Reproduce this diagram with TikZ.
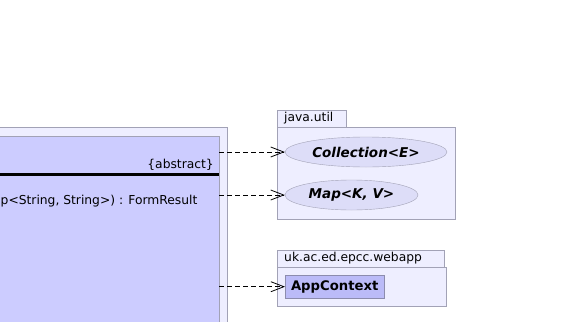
\documentclass[tikz,border=0pt]{standalone}
\usepackage{fontspec}
\setmainfont{DejaVu Sans}
\usetikzlibrary{arrows.meta,shapes.geometric,positioning}

\definecolor{pkgfill}{HTML}{EEEEFF}
\definecolor{pkgline}{HTML}{A2A2B6}
\definecolor{classfill}{HTML}{CCCCFF}
\definecolor{ifacefill}{HTML}{DDDDF8}
\definecolor{reffill}{HTML}{BBBBF8}
\definecolor{refline}{HTML}{8C8CAE}

\tikzset{
    umlfont/.style={font=\fontsize{12.3pt}{14pt}\selectfont},
    pkgbody/.style={draw=pkgline, fill=pkgfill, inner sep=0pt, anchor=north west},
    pkgtab/.style={draw=pkgline, fill=pkgfill, umlfont, inner xsep=7pt, inner ysep=0pt,
        anchor=south west, align=left, minimum height=17pt},
    classbox/.style={draw=pkgline, fill=classfill, inner sep=0pt},
    iface/.style={ellipse, draw=pkgline, fill=ifacefill, inner sep=0pt,
        font=\fontsize{13.5pt}{15pt}\selectfont\bfseries\itshape},
    refclass/.style={draw=refline, fill=reffill, inner sep=0pt,
        font=\fontsize{13.2pt}{15pt}\selectfont\bfseries},
    dep/.style={line width=0.8pt, dash pattern=on 5pt off 3pt,
        -{Straight Barb[length=13pt,width=10pt]}}
}

\begin{document}
\begin{tikzpicture}[x=1pt, y=-1pt]
    \useasboundingbox (0,0) rectangle (569,321);

    % package of the abstract class, running off the page
    \node[draw=pkgline, fill=pkgfill, inner sep=0pt, anchor=north east,
          minimum width=240pt, minimum height=200pt] (ownpkg) at (227,127) {};
    \node[classbox, anchor=north east, minimum width=232pt, minimum height=190pt]
        (form) at (219,136) {};
    \node[umlfont, anchor=east, inner sep=0pt] (abstract) at (214,165) {\{abstract\}};
    \draw[line width=2.5pt] (form.west |- 0,174.5) -- (form.east |- 0,174.5);
    \node[umlfont, anchor=west, inner sep=0pt] (operation) at (0.5,201)
        {p<String, String>) : FormResult};

    % java.util
    \node[pkgbody, minimum width=178pt, minimum height=92pt] (javautil) at (277,127) {};
    \node[pkgtab, text width=55pt] (javatab) at (javautil.north west) {java.util};
    \node[iface, minimum width=162pt, minimum height=30pt] (collection) at (366,152)
        {Collection<E>};
    \node[iface, minimum width=133pt, minimum height=30pt] (map) at (351.5,195)
        {Map<K, V>};

    % uk.ac.ed.epcc.webapp
    \node[pkgbody, minimum width=168.5pt, minimum height=39pt] (webapp) at (277,267) {};
    \node[pkgtab, text width=153pt] (webtab) at (webapp.north west) {uk.ac.ed.epcc.webapp};
    \node[refclass, anchor=north west, minimum width=99pt, minimum height=23pt]
        (appcontext) at (285,275) {AppContext};

    % dependencies
    \draw[dep] (form.east |- collection.west) -- (collection.west);
    \draw[dep] (form.east |- map.west) -- (map.west);
    \draw[dep] (form.east |- appcontext.west) -- (appcontext.west);
\end{tikzpicture}
\end{document}
